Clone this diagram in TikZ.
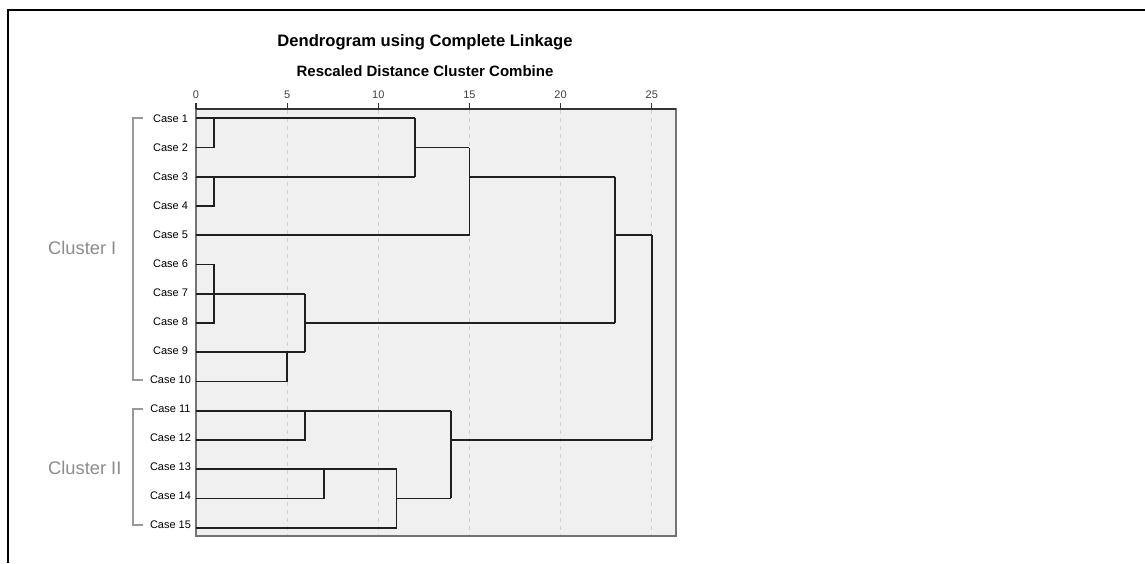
\documentclass[tikz,border=0pt]{standalone}
\usepackage{fontspec}
\setmainfont{Liberation Sans}
\begin{document}
\begin{tikzpicture}[x=1pt,y=-1pt,
  titlelbl/.style={font=\bfseries\fontsize{16.6}{16.6}\selectfont, inner sep=0pt, anchor=base},
  subtitlelbl/.style={font=\bfseries\fontsize{15}{15}\selectfont, inner sep=0pt, anchor=base},
  caselbl/.style={font=\fontsize{11}{11}\selectfont, text=black, inner sep=0pt},
  ticklbl/.style={font=\fontsize{11}{11}\selectfont, text=black!75, inner sep=0pt, anchor=base},
  clusterlbl/.style={font=\fontsize{18.3}{18.3}\selectfont, text=black!45, inner sep=0pt, anchor=west},
  bracket/.style={draw=black!40, line width=2pt},
  dend/.style={draw=black!88, line width=1.8pt, line join=miter},
  gridline/.style={draw=black!18, line width=0.9pt, dash pattern=on 4pt off 4pt},
  axisline/.style={draw=black!80, line width=1.3pt},
]
\useasboundingbox (0,0) rectangle (1145,563);
\fill[white] (0,0) rectangle (1145,563);

% outer frame (top and left edges)
\draw[line width=2pt] (8,563) -- (8,9.5) -- (1145,9.5);

% titles
\node[titlelbl] (title) at (425,46.7) {Dendrogram using Complete Linkage};
\node[subtitlelbl] (subtitle) at (425,76) {Rescaled Distance Cluster Combine};

% plot area
\fill[black!6] (196,109) rectangle (676,536);
\foreach \d in {5,10,15,20,25}
  \draw[gridline] ({196+18.23*\d},110) -- ({196+18.23*\d},535);
\draw[black!55, line width=1.3pt] (196,109) rectangle (676,536);
\draw[axisline] (196,109) -- (676,109);

% axis ticks and labels
\foreach \d in {0,5,10,15,20,25}{
  \draw[axisline] ({196+18.23*\d},103) -- ({196+18.23*\d},109);
  \node[ticklbl] (t\d) at ({196+18.23*\d},98.3) {\d};
}

% case labels
\foreach \k in {1,...,15}
  \node[caselbl] (c\k) at (170.5,{119+(\k-1)*28.96}) {Case \k};

% cluster brackets and labels
\draw[bracket] (143,118.3) -- (133.3,118.3) -- (133.3,380) -- (143,380);
\draw[bracket] (143,408.5) -- (133.3,408.5) -- (133.3,525) -- (143,525);
\node[clusterlbl] (cl1) at (48,248) {Cluster I};
\node[clusterlbl] (cl2) at (48,468) {Cluster II};

% dendrogram: x = rescaled distance, y = case row
\begin{scope}[shift={(196pt,-89.06pt)}, x=18.23pt, y=-29.24pt]
  % cases 1-5
  \draw[dend] (0,1) -- (12,1);
  \draw[dend] (0,2) -| (1,1);
  \draw[dend] (0,3) -- (12,3);
  \draw[dend] (0,4) -| (1,3);
  \draw[dend] (12,1) -- (12,3);
  \draw[dend] (12,2) -- (15,2);
  \draw[dend] (0,5) -| (15,2);
  \draw[dend] (15,3) -- (23,3);
  % cases 6-10
  \draw[dend] (0,6) -- (1,6) -- (1,8) -- (0,8);
  \draw[dend] (0,7) -- (6,7);
  \draw[dend] (0,9) -- (6,9);
  \draw[dend] (0,10) -| (5,9);
  \draw[dend] (6,7) -- (6,9);
  \draw[dend] (6,8) -- (23,8);
  \draw[dend] (23,3) -- (23,8);
  \draw[dend] (23,5) -- (25,5);
  % cases 11-15
  \draw[dend] (0,11) -- (14,11);
  \draw[dend] (0,12) -| (6,11);
  \draw[dend] (0,13) -- (11,13);
  \draw[dend] (0,14) -| (7,13);
  \draw[dend] (0,15) -| (11,13);
  \draw[dend] (11,14) -- (14,14);
  \draw[dend] (14,11) -- (14,14);
  \draw[dend] (14,12) -- (25,12);
  % final merge
  \draw[dend] (25,5) -- (25,12);
\end{scope}
\end{tikzpicture}
\end{document}
